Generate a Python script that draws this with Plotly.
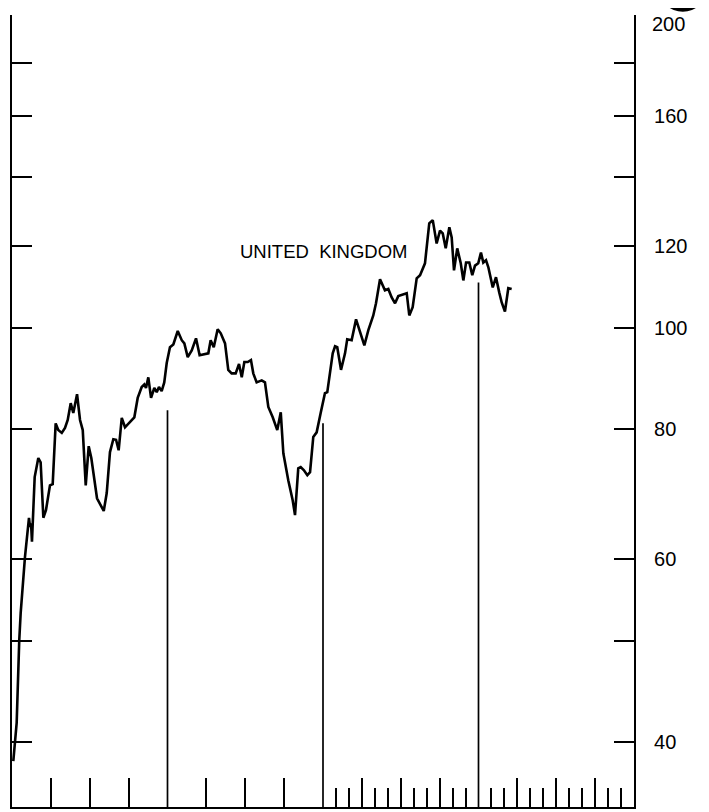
import math
import plotly.graph_objects as go

# ---- data (months from start of chart, index level) ----
months = [0.10, 0.36, 0.56, 0.67, 1.00, 1.31, 1.39, 1.47, 1.54, 1.75, 2.03, 2.21, 2.42, 2.62, 2.93,
          3.14, 3.37, 3.57, 3.84, 4.09, 4.30, 4.53, 4.73, 5.02, 5.25, 5.46, 5.69, 5.92, 6.12, 6.56,
          7.08, 7.31, 7.56, 7.82, 8.03, 8.23, 8.47, 8.72,
          9.24, 9.44, 9.70, 10.01, 10.21, 10.34, 10.52, 10.73, 10.98, 11.17, 11.34, 11.55, 11.75, 11.94,
          12.19, 12.45, 12.79, 13.10, 13.30, 13.56, 13.87, 14.20, 14.48, 14.79, 15.15, 15.33, 15.57,
          15.87, 16.11, 16.44, 16.69, 16.95, 17.26, 17.52, 17.73, 17.93, 18.19, 18.44,
          18.62, 18.88, 19.27, 19.52, 19.78, 20.12, 20.47, 20.74, 20.94, 21.32, 21.66, 21.84, 22.09,
          22.28, 22.53, 22.79, 23.00, 23.25, 23.51, 23.82, 24.15, 24.33,
          24.75, 24.93, 25.10, 25.39, 25.70, 25.87, 26.21, 26.55, 26.86, 27.19, 27.50, 27.88, 28.09,
          28.40, 28.78, 29.04, 29.30, 29.56, 29.81, 30.20, 30.46, 30.66, 30.92, 31.23, 31.49,
          31.87, 32.20, 32.47, 32.77, 33.03, 33.24, 33.47, 33.75, 33.93, 34.11, 34.36, 34.63, 34.83,
          35.04, 35.29, 35.52, 35.73, 35.98, 36.19, 36.37, 36.58, 36.76, 37.10, 37.35, 37.60, 37.79,
          38.04, 38.30, 38.56]

index_values = [38.3, 41.7, 50.1, 53.2, 60.2, 65.7, 64.4, 64.9, 62.3, 71.9, 75.0, 74.3, 65.7, 66.8, 70.6,
                70.8, 81.0, 79.8, 79.3, 80.2, 81.6, 84.7, 82.9, 86.4, 81.6, 79.8, 70.6, 77.0, 75.0, 68.6,
                66.7, 69.4, 76.0, 78.2, 78.1, 76.3, 82.0, 80.3,
                81.6, 82.1, 85.7, 87.8, 88.3, 87.6, 89.7, 85.7, 87.6, 86.8, 87.8, 87.0, 88.7, 92.6,
                95.9, 96.5, 99.4, 97.4, 96.7, 93.8, 95.2, 97.8, 94.2, 94.4, 94.6, 97.4, 95.9,
                99.8, 98.9, 96.7, 91.2, 90.5, 90.5, 92.4, 89.7, 92.8, 92.8, 93.2,
                90.5, 88.7, 89.1, 88.7, 84.0, 82.1, 79.8, 83.0, 75.8, 71.4, 68.3, 66.1, 73.3,
                73.5, 73.0, 72.2, 72.7, 78.6, 79.4, 82.9, 86.6, 86.8,
                94.6, 96.1, 95.9, 91.2, 94.6, 97.6, 97.4, 102.0, 99.1, 96.3, 99.6, 102.9, 105.7,
                111.5, 108.8, 109.1, 107.1, 105.7, 107.4, 107.8, 108.1, 102.9, 104.8, 111.7, 112.5,
                115.5, 126.2, 127.1, 120.7, 124.2, 123.4, 119.4, 125.1, 122.3, 113.7, 119.4, 115.5, 111.2,
                115.7, 115.7, 112.5, 114.9, 115.5, 118.3, 115.7, 116.3, 114.5, 109.5, 112.0, 108.3, 105.9,
                103.8, 109.3, 109.1]

# year separators (month position, top of the drop line)
year_marks = [12, 24, 36]
year_mark_tops = [83.4, 81.0, 110.7]

# axis ticks (the top label "200" is placed just under its tick, as in the original)
y_tick_vals = [200, 180, 160, 140, 120, 100, 80, 60, 50, 40]
y_tick_text = ["", "", "160", "", "120", "100", "80", "60", "", "40"]
top_tick_value = 200
top_tick_label = "200"
quarter_ticks = [3, 6, 9, 15, 18, 21, 27, 30, 33, 39, 42, 45]
month_ticks = [25, 26, 28, 29, 31, 32, 34, 35, 37, 38, 40, 41, 43, 44, 46, 47]

series_label = "UNITED\u00a0\u00a0KINGDOM"

X_RANGE = [0, 48]
Y_MIN, Y_MAX = 34.6, 200.3
Y_RANGE = [math.log10(Y_MIN), math.log10(Y_MAX)]

FONT = "Liberation Sans, Arial, Helvetica, sans-serif"

fig = go.Figure()
fig.add_trace(go.Scatter(x=months, y=index_values, mode="lines",
                         line=dict(color="black", width=2.6),
                         xaxis="x", yaxis="y", hoverinfo="skip"))

vx, vy = [], []
for m, top in zip(year_marks, year_mark_tops):
    vx += [m, m, None]
    vy += [Y_MIN, top, None]
fig.add_trace(go.Scatter(x=vx, y=vy, mode="lines",
                         line=dict(color="black", width=1.7),
                         xaxis="x2", yaxis="y2", hoverinfo="skip"))

common_x = dict(range=X_RANGE, showgrid=False, zeroline=False, showticklabels=False,
                ticks="inside", tickcolor="black", tickwidth=1.6, automargin=False)
common_y = dict(type="log", range=Y_RANGE, showgrid=False, zeroline=False,
                ticks="inside", tickcolor="black", tickwidth=1.6, ticklen=20,
                tickvals=y_tick_vals, showline=True, linecolor="black", linewidth=2.2,
                automargin=False)

fig.update_layout(
    width=709, height=812,
    margin=dict(l=4, r=83, t=7, b=13, autoexpand=False),
    paper_bgcolor="white", plot_bgcolor="white",
    showlegend=False,
    font=dict(family=FONT, color="black"),
    xaxis=dict(**common_x, tickvals=quarter_ticks, ticklen=29,
               showline=True, linecolor="black", linewidth=2.2),
    xaxis2=dict(**common_x, tickvals=month_ticks, ticklen=19, overlaying="x",
                side="bottom", showline=False),
    yaxis=dict(**common_y, showticklabels=False),
    yaxis2=dict(**common_y, overlaying="y", side="right", ticktext=y_tick_text,
                showticklabels=True, tickfont=dict(family=FONT, size=20, color="black"),
                ticklabelstandoff=14),
    annotations=[
        dict(text=series_label, x=24.1, y=math.log10(118.6), xref="x", yref="y",
             showarrow=False, xanchor="center", yanchor="middle",
             font=dict(family=FONT, size=18.5, color="black")),
        dict(text=top_tick_label, x=1, xref="paper", y=math.log10(top_tick_value), yref="y",
             xanchor="left", yanchor="middle", xshift=16, yshift=-8, showarrow=False,
             font=dict(family=FONT, size=20, color="black")),
    ],
    shapes=[dict(type="circle", xref="paper", yref="paper", x0=1.040, x1=1.117,
                 y0=1.004, y1=1.064, fillcolor="black", layer="above",
                 line=dict(color="black", width=0))],
)

fig.write_html("out.html")
